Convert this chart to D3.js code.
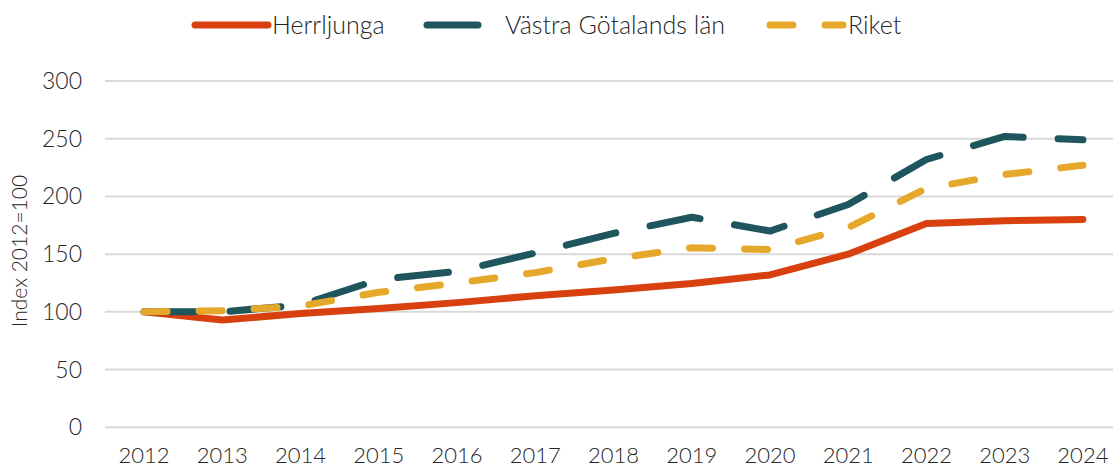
<!DOCTYPE html>
<html>
<head>
<meta charset="utf-8">
<script src="https://cdn.jsdelivr.net/npm/d3@7"></script>
<style>
  body { margin: 0; background: #fff; }
  text { font-family: Lato, "Open Sans", sans-serif; font-weight: 300; fill: #262626; }
</style>
</head>
<body>
<script>
var years = ["2012","2013","2014","2015","2016","2017","2018","2019","2020","2021","2022","2023","2024"];
var herrljunga = [100, 93, 98.5, 103, 108, 114, 119, 124.5, 132, 150, 176.5, 179, 180];
var vastraGotaland = [100, 100, 106, 128, 135, 151, 168, 182, 170, 193, 232, 252, 249];
var riket = [100, 101, 105, 117, 125, 134, 146, 155.5, 154, 173, 207, 219, 227];
var yTicks = [0, 50, 100, 150, 200, 250, 300];

var width = 1113, height = 468;

var series = [
    {name: "Herrljunga", values: herrljunga, color: "#d9400f", dash: null, lx: 192},
    {name: "Västra Götalands län", values: vastraGotaland, color: "#1f555c", dash: "51,35", lx: 424},
    {name: "Riket", values: riket, color: "#e6a82a", dash: "23,32", lx: 767}
];

var svg = d3.select("body").append("svg")
    .attr("width", width)
    .attr("height", height);

var x = d3.scalePoint()
    .domain(years)
    .range([105, 1122])
    .padding(0.5);

var y = d3.scaleLinear()
    .domain([0, 300])
    .range([427.3, 81]);

// gridlines
svg.append("g")
    .selectAll("line")
    .data(yTicks)
    .enter().append("line")
        .attr("x1", 105)
        .attr("x2", 1122)
        .attr("y1", d => y(d))
        .attr("y2", d => y(d))
        .attr("stroke", "#d9d9d9")
        .attr("stroke-width", 2);

// y tick labels
svg.append("g")
    .selectAll("text")
    .data(yTicks)
    .enter().append("text")
        .attr("x", 82)
        .attr("y", d => y(d))
        .attr("dy", "0.35em")
        .attr("text-anchor", "end")
        .style("font-size", "23px")
        .text(d => d);

// x tick labels
svg.append("g")
    .selectAll("text")
    .data(years)
    .enter().append("text")
        .attr("x", d => x(d))
        .attr("y", 463)
        .attr("text-anchor", "middle")
        .style("font-size", "22px")
        .text(d => d);

// y axis title
svg.append("text")
    .attr("transform", "translate(27,251) rotate(-90)")
    .attr("text-anchor", "middle")
    .style("font-size", "21px")
    .text("Index 2012=100");

var line = d3.line()
    .x((d, i) => x(years[i]))
    .y(d => y(d));

series.forEach(function(s) {
    svg.append("path")
        .datum(s.values)
        .attr("d", line)
        .attr("fill", "none")
        .attr("stroke", s.color)
        .attr("stroke-width", 7)
        .attr("stroke-linecap", "round")
        .attr("stroke-linejoin", "round")
        .attr("stroke-dasharray", s.dash);
});

// legend
var legend = svg.append("g");
series.forEach(function(s) {
    legend.append("line")
        .attr("x1", s.lx + 3)
        .attr("x2", s.lx + 76)
        .attr("y1", 25)
        .attr("y2", 25)
        .attr("stroke", s.color)
        .attr("stroke-width", 7)
        .attr("stroke-linecap", "round")
        .attr("stroke-dasharray", s.dash);
    legend.append("text")
        .attr("x", s.lx + (s.dash ? 81 : 80))
        .attr("y", 25)
        .attr("dy", "0.35em")
        .style("font-size", "25px")
        .text(s.name);
});
</script>
</body>
</html>
